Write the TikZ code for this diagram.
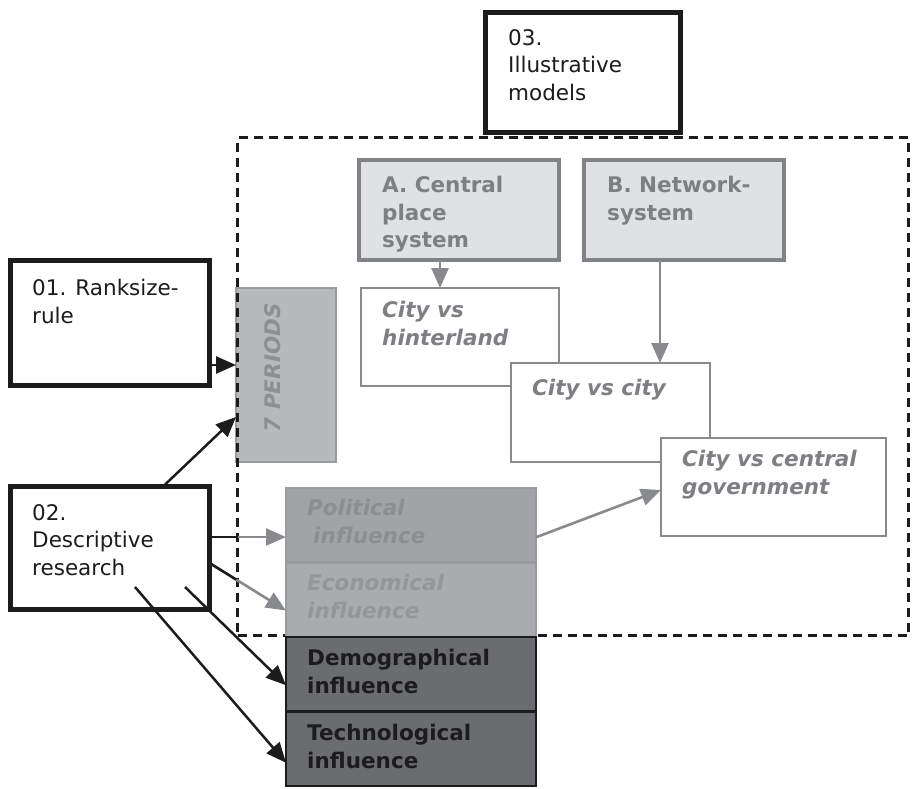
\documentclass[tikz,border=0pt]{standalone}
\usepackage{fontspec}
\setmainfont{DejaVu Sans}[ItalicFont={DejaVu Sans Oblique},BoldFont={DejaVu Sans Bold},BoldItalicFont={DejaVu Sans Bold Oblique}]
\usetikzlibrary{arrows.meta,positioning,calc}
\definecolor{nearblack}{HTML}{1C1C1C}
\definecolor{boxgray}{HTML}{818286}
\definecolor{boxfill}{HTML}{E0E1E3}
\definecolor{relgray}{HTML}{898A8E}
\definecolor{textgray}{HTML}{7E7F83}
\definecolor{perfill}{HTML}{B8B9BD}
\definecolor{perline}{HTML}{9A9B9F}
\definecolor{pertext}{HTML}{8E8F93}
\definecolor{polfill}{HTML}{A2A3A7}
\definecolor{ecofill}{HTML}{AAABAF}
\definecolor{poltext}{HTML}{8D8E92}
\definecolor{ecotext}{HTML}{95969A}
\definecolor{darkfill}{HTML}{6B6C70}
\tikzset{
  blank/.style={rectangle, inner sep=0pt, outer sep=0pt, anchor=north west},
  stagebox/.style={blank, draw=nearblack, line width=5pt, fill=white},
  modelbox/.style={blank, draw=boxgray, line width=4pt, fill=boxfill, minimum width=200pt, minimum height=100pt},
  relbox/.style={blank, draw=relgray, line width=2.6pt, fill=white},
  infbox/.style={blank, line width=2.4pt, minimum width=250pt, minimum height=74.5pt},
  txt/.style={anchor=north west, inner sep=0pt, align=left, font=\fontsize{21.5}{27.5}\selectfont},
  blkarrow/.style={draw=nearblack, line width=2.5pt, -{Triangle[length=20pt,width=17pt]}},
  grayarrow/.style={draw=relgray, line width=2.6pt, -{Triangle[length=20pt,width=17pt]}}
}
\begin{document}
\begin{tikzpicture}[x=1pt,y=-1pt]
  \useasboundingbox (0,0) rectangle (915,788);

  \node[stagebox, minimum width=195pt, minimum height=120pt] (s03) at (485.5,12.5) {};
  \node[stagebox, minimum width=199pt, minimum height=125pt] (s01) at (10.5,260.5) {};
  \node[stagebox, minimum width=199pt, minimum height=123pt] (s02) at (10.5,486.5) {};

  \node[blank, draw=perline, fill=perfill, line width=2.4pt, minimum width=100pt, minimum height=174pt] (per) at (236,288) {};
  \node[blank, draw=nearblack, line width=3pt, dash pattern=on 9pt off 6pt, minimum width=671pt, minimum height=498pt] (frame) at (237.5,137.5) {};

  \node[modelbox] (ma) at (359,160) {};
  \node[modelbox] (mb) at (584,160) {};
  \node[relbox, minimum width=198pt, minimum height=98pt] (hint) at (361,288) {};
  \node[relbox, minimum width=199pt, minimum height=99pt] (cvc) at (511,363) {};
  \node[relbox, minimum width=225pt, minimum height=98pt] (gov) at (661,438) {};

  \node[infbox, draw=perline, fill=polfill] (pol) at (286,488) {};
  \node[infbox, draw=perline, fill=ecofill, below=0pt of pol] (eco) {};
  \node[infbox, draw=nearblack, fill=darkfill, below=0pt of eco] (demo) {};
  \node[infbox, draw=nearblack, fill=darkfill, below=0pt of demo] (tech) {};

  \draw[grayarrow] ([xshift=-19pt]ma.south) -- ([xshift=-19pt]ma.south |- hint.north);
  \draw[grayarrow] ([xshift=-24pt]mb.south) -- ([xshift=-24pt]mb.south |- cvc.north);
  \draw[grayarrow] ([yshift=-12pt]pol.east) -- ([yshift=-3pt]gov.west);
  \draw[blkarrow] ([yshift=-42pt]s01.east) -- ([yshift=-42pt]s01.east -| per.west);
  \draw[blkarrow] ([xshift=53pt]s02.north) -- ([yshift=-42pt]per.west);
  \draw[grayarrow] ([yshift=11pt]s02.east) -- ([yshift=11pt]s02.east -| pol.west);
  \draw[nearblack, line width=2.5pt] ([yshift=11pt]s02.east) -- ([yshift=11pt]s02.east -| frame.west);
  \coordinate (e1) at ([yshift=-15pt]s02.east);
  \coordinate (e2) at ([yshift=-10.75pt]eco.west);
  \draw[grayarrow] (e1) -- (e2);
  \draw[nearblack, line width=2.5pt] (e1) -- ($(e1)!0.35!(e2)$);
  \draw[blkarrow] ([xshift=75pt,yshift=22.5pt]s02.south) -- ([yshift=-11pt]demo.west);
  \draw[blkarrow] ([xshift=25pt,yshift=22.5pt]s02.south) -- ([yshift=-14pt]tech.west);

  \node[txt, text=nearblack] (t03) at (508,29) {03.\\Illustrative\\models};
  \node[txt, text=nearblack] (t01) at (32,279) {01. Ranksize-\\rule};
  \node[txt, text=nearblack] (t02) at (32,504) {02.\\Descriptive\\research};
  \node[txt, text=textgray, font=\fontsize{21.5}{27.5}\selectfont\bfseries] (ta) at (382,176) {A. Central\\place\\system};
  \node[txt, text=textgray, font=\fontsize{21.5}{27.5}\selectfont\bfseries] (tb) at (607,176) {B. Network-\\system};
  \node[txt, text=textgray, font=\fontsize{21.5}{27.5}\selectfont\bfseries\itshape] (thint) at (382,301) {City vs\\hinterland};
  \node[txt, text=textgray, font=\fontsize{21.5}{27.5}\selectfont\bfseries\itshape] (tcvc) at (532,379) {City vs city};
  \node[txt, text=textgray, font=\fontsize{21.5}{27.5}\selectfont\bfseries\itshape] (tgov) at (682,450) {City vs central\\government};
  \node[rotate=90, anchor=base east, inner sep=0pt, text=pertext, font=\fontsize{21.5}{27.5}\selectfont\bfseries\itshape] (tper) at (280,303) {7 PERIODS};
  \node[txt, text=poltext, font=\fontsize{21.5}{28}\selectfont\bfseries\itshape] (tpol) at (307,499) {Political\\\hspace*{6pt}influence};
  \node[txt, text=ecotext, font=\fontsize{21.5}{28}\selectfont\bfseries\itshape] (teco) at (307,574) {Economical\\influence};
  \node[txt, text=nearblack, font=\fontsize{21.5}{28}\selectfont\bfseries] (tdemo) at (307,649) {Demographical\\influence};
  \node[txt, text=nearblack, font=\fontsize{21.5}{28}\selectfont\bfseries] (ttech) at (307,724) {Technological\\influence};
\end{tikzpicture}
\end{document}
